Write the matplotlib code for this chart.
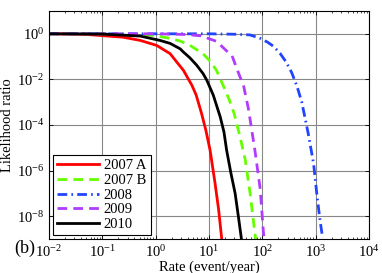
import numpy as np
import matplotlib
matplotlib.use('Agg')
import matplotlib.pyplot as plt
from matplotlib.ticker import LogLocator, NullLocator, NullFormatter

# values as log10(rate), log10(likelihood ratio)
RED_LX = [-2.0, -1.5, -1.23, -0.61, -0.29, 0.02, 0.27, 0.42, 0.52, 0.68, 0.76,
          0.86, 0.94, 1.02, 1.11, 1.18, 1.24]
RED_LY = [0.0, -0.015, -0.04, -0.15, -0.29, -0.51, -0.87, -1.31, -1.6, -2.26, -2.69,
          -3.49, -4.22, -5.1, -6.5, -7.7, -9.03]

GREEN_LX = [-2.0, -1.0, -0.5, -0.05, 0.27, 0.46, 0.64, 0.77, 0.89, 1.02, 1.14,
            1.3, 1.38, 1.47, 1.58, 1.68, 1.77, 1.86, 1.88]
GREEN_LY = [0.0, 0.0, -0.02, -0.07, -0.2, -0.32, -0.5, -0.7, -0.88, -1.2, -1.6,
            -2.45, -2.9, -3.49, -4.5, -5.53, -6.99, -8.73, -9.1]

BLUE_LX = [-2.0, 1.0, 1.5, 1.77, 1.96, 2.1, 2.21, 2.33, 2.45, 2.55, 2.65, 2.74,
           2.86, 2.96, 3.02, 3.08, 3.13]
BLUE_LY = [0.0, 0.0, -0.02, -0.05, -0.2, -0.37, -0.55, -0.85, -1.25, -1.7, -2.3, -3.0,
           -4.37, -5.68, -6.99, -8.15, -8.95]

PURPLE_LX = [-2.0, 0.0, 0.58, 0.89, 0.96, 1.14, 1.33, 1.43, 1.55, 1.65, 1.74,
             1.86, 1.96, 2.02, 2.04]
PURPLE_LY = [0.0, 0.0, -0.03, -0.1, -0.18, -0.33, -0.75, -0.95, -1.7, -2.3, -3.3,
             -5.1, -6.8, -8.7, -9.1]

BLACK_LX = [-2.0, -1.0, -0.29, 0.08, 0.27, 0.46, 0.52, 0.64, 0.77, 0.89, 0.96,
            1.08, 1.17, 1.21, 1.28, 1.33, 1.41, 1.49, 1.55, 1.61]
BLACK_LY = [0.0, -0.01, -0.1, -0.29, -0.42, -0.66, -0.8, -1.05, -1.38, -1.75, -2.04,
            -2.69, -3.35, -3.64, -4.3, -5.1, -6.1, -7.0, -8.0, -9.03]

LABELS = ['2007 A', '2007 B', '2008', '2009', '2010']

plt.rcParams['font.family'] = ['Liberation Serif', 'DejaVu Serif']
plt.rcParams['mathtext.fontset'] = 'stix'

fig = plt.figure(figsize=(3.82, 2.73), dpi=100)
ax = fig.add_axes([49 / 382, 1 - 239 / 273, 320 / 382, 228 / 273])

series = [
    (RED_LX, RED_LY, '#ff0000', '-', None),
    (GREEN_LX, GREEN_LY, '#66ff00', '--', (3.5, 2.2)),
    (BLUE_LX, BLUE_LY, '#2244ff', '-.', (3.5, 1.5, 0.6, 1.5)),
    (PURPLE_LX, PURPLE_LY, '#b03cff', '--', (3.5, 2.2)),
    (BLACK_LX, BLACK_LY, '#000000', '-', None),
]
for (lx, ly, c, ls, dash), lab in zip(series, LABELS):
    line, = ax.plot(10 ** np.array(lx), 10 ** np.array(ly), color=c,
                    lw=2.0, label=lab, ls=ls)
    if dash is not None:
        line.set_dashes(dash)

ax.set_xscale('log')
ax.set_yscale('log')
ax.set_xlim(1e-2, 1e4)
ax.set_ylim(1e-9, 1e1)

ax.xaxis.set_major_locator(LogLocator(base=10, numticks=10))
ax.xaxis.set_minor_locator(LogLocator(base=10, subs=np.arange(2, 10), numticks=20))
ax.xaxis.set_minor_formatter(NullFormatter())
ax.set_yticks([1e0, 1e-2, 1e-4, 1e-6, 1e-8])
ax.yaxis.set_minor_locator(NullLocator())

ax.tick_params(which='both', direction='in', top=True, right=True, labelsize=10.5)
ax.tick_params(which='major', length=3, width=0.6)
ax.tick_params(which='minor', length=1.5, width=0.5)
ax.tick_params(axis='x', pad=4)

ax.grid(True, which='major', color='#888888', lw=0.8)
for s in ax.spines.values():
    s.set_linewidth(0.8)

ax.set_xlabel('Rate (event/year)', fontsize=10.5, labelpad=0)
ax.set_ylabel('Likelihood ratio', fontsize=10.5, labelpad=2)

leg = ax.legend(loc='lower left', fontsize=10.5, frameon=True, fancybox=False,
                edgecolor='black', framealpha=1, borderaxespad=0.25,
                handlelength=2.9, handletextpad=0.3, labelspacing=0.1,
                borderpad=0.3)
leg.get_frame().set_linewidth(0.8)

fig.text(14 / 382, 1 - 248 / 273, '(b)', fontsize=13, va='center', ha='left')

fig.savefig('out.png', dpi=100)
